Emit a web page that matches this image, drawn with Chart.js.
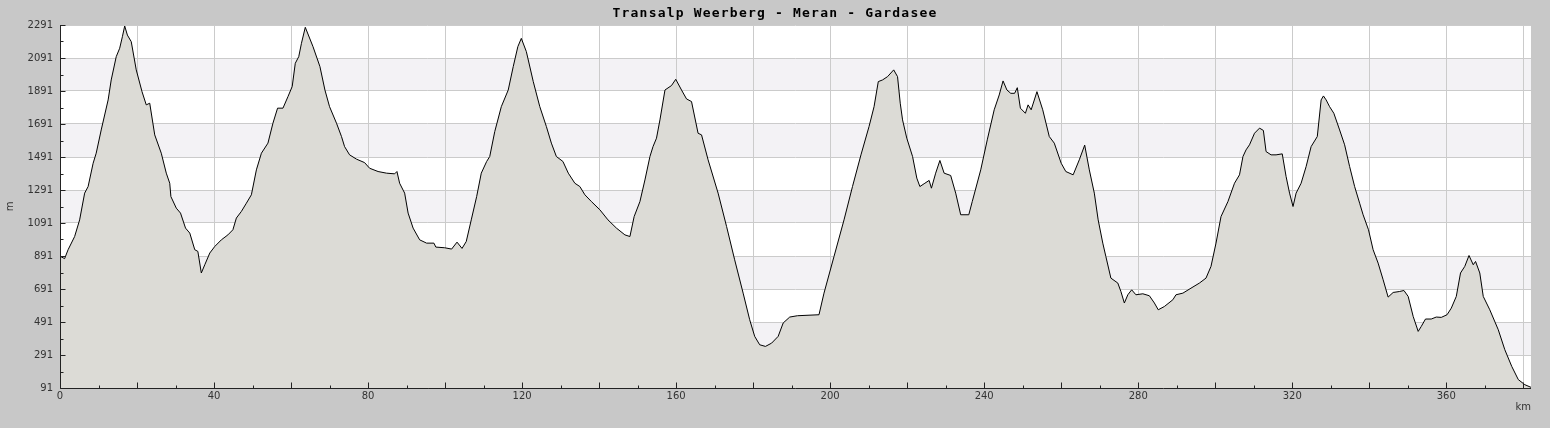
<!DOCTYPE html>
<html>
<head>
<meta charset="utf-8">
<title>Transalp Weerberg - Meran - Gardasee</title>
<script src="https://cdn.jsdelivr.net/npm/chart.js@4.4.1/dist/chart.umd.min.js"></script>
<style>
  html, body { margin: 0; padding: 0; background: #c8c8c8; }
  canvas { display: block; }
</style>
</head>
<body>
<canvas id="profile" width="1550" height="428"></canvas>
<script>
// elevation profile (km / m)
const distKm = [
  0, 1.2, 2.1, 3.8, 5.1, 6.4, 7.3, 8.6, 9.4, 10.7, 12.5, 13.3, 14.6, 15.5, 16.2, 16.8, 17.5, 18.5, 19.8,
  21.3, 22.4, 23.3, 24.6, 26.3, 27.6, 28.5, 28.8, 30.2, 31.3, 32.6, 33.7, 35.0, 35.8, 36.7, 37.6, 38.9,
  40.2, 41.9, 43.6, 44.9, 45.8, 47.1, 48.4, 49.7, 51.0, 52.3, 54.0, 55.3, 56.5, 57.9, 59.2, 60.3, 61.1,
  62.0, 62.7, 63.7, 65.7, 67.5, 68.8, 70.0, 71.8, 73.1, 73.9, 75.2, 77.0, 79.1, 80.4, 82.6, 84.8, 86.9,
  87.5, 88.2, 89.5, 90.4, 91.7, 93.4, 95.2, 97.1, 97.6, 99.9, 101.7, 103.1, 104.4, 105.5, 106.8, 108.2,
  109.4, 110.8, 111.6, 112.9, 114.6, 116.4, 117.7, 118.9, 119.8, 121.1, 122.9, 124.6, 126.3, 127.6,
  128.9, 130.6, 132.0, 133.7, 135.0, 136.3, 138.0, 140.2, 142.3, 144.5, 146.7, 148.0, 149.1, 150.6,
  151.9, 153.2, 154.0, 154.9, 155.8, 157.1, 158.8, 159.9, 161.4, 162.7, 164.0, 165.7, 166.6, 168.3,
  170.9, 173.1, 175.2, 177.4, 179.1, 180.4, 181.7, 183.2, 184.8, 186.5, 187.8, 189.5, 191.5, 197.1,
  198.4, 201.0, 203.6, 205.8, 208.0, 210.1, 211.4, 212.5, 213.6, 214.9, 216.5, 217.5, 218.2, 218.8,
  219.9, 221.4, 222.5, 223.3, 224.4, 225.7, 226.3, 227.4, 228.5, 229.6, 231.3, 232.6, 233.9, 236.0,
  236.9, 239.1, 240.8, 242.6, 243.9, 244.9, 245.9, 246.9, 247.9, 248.6, 249.4, 250.7, 251.4, 252.2,
  253.7, 255.2, 256.9, 258.2, 260.0, 261.2, 263.1, 264.7, 266.1, 267.3, 268.6, 269.6, 270.8, 271.6,
  272.9, 274.7, 275.5, 276.4, 277.3, 278.3, 279.4, 281.2, 282.9, 284.2, 285.2, 286.8, 289.0, 289.8,
  291.6, 293.7, 295.9, 297.6, 298.9, 300.2, 301.5, 303.3, 305.0, 306.3, 307.2, 308.0, 308.9, 310.2,
  311.5, 312.5, 313.2, 314.5, 315.8, 317.4, 318.4, 319.3, 320.2, 321.0, 322.3, 323.6, 324.9, 326.5,
  327.5, 328.1, 328.8, 329.7, 330.8, 332.3, 333.6, 334.9, 336.2, 337.5, 338.4, 339.8, 341.0, 342.3,
  343.6, 344.9, 346.2, 347.9, 349.0, 350.1, 351.4, 352.7, 353.5, 354.6, 356.1, 357.4, 358.7, 360.2,
  361.3, 362.6, 363.7, 364.8, 365.9, 367.0, 367.6, 368.7, 369.6, 371.3, 373.5, 375.2, 377.0, 378.7,
  380.4, 382.0
];
const elevM = [
  890, 875, 929, 1009, 1110, 1272, 1312, 1453, 1514, 1655, 1837, 1958, 2099, 2150, 2220, 2285, 2230, 2190, 2019,
  1887, 1807, 1817, 1625, 1514, 1393, 1332, 1251, 1181, 1151, 1060, 1030, 929, 919, 788, 838, 909,
  949, 989, 1019, 1050, 1121, 1161, 1211, 1262, 1413, 1514, 1575, 1696, 1787, 1787, 1857, 1918, 2059,
  2099, 2180, 2277, 2160, 2039, 1897, 1796, 1696, 1615, 1554, 1504, 1478, 1457, 1423, 1403, 1393, 1389,
  1403, 1332, 1272, 1151, 1060, 989, 969, 969, 945, 941, 933, 975, 937, 979, 1110, 1251,
  1393, 1464, 1494, 1645, 1796, 1897, 2039, 2160, 2210, 2130, 1948, 1796, 1676, 1575,
  1494, 1464, 1393, 1332, 1312, 1262, 1221, 1171, 1110, 1060, 1019, 1009, 1130, 1221,
  1352, 1494, 1554, 1605, 1716, 1897, 1924, 1962, 1897, 1843, 1827, 1635, 1625, 1474,
  1272, 1070, 868, 666, 505, 404, 353, 343, 363, 404, 485, 521, 529, 535,
  666, 888, 1110, 1312, 1504, 1676, 1796, 1948, 1958, 1978, 2019, 1978, 1817, 1716,
  1605, 1494, 1363, 1312, 1329, 1349, 1302, 1393, 1470, 1393, 1379, 1272, 1141, 1141,
  1221, 1413, 1595, 1777, 1867, 1952, 1897, 1877, 1877, 1911, 1787, 1756, 1807, 1777,
  1887, 1777, 1615, 1575, 1453, 1403, 1383, 1474, 1563, 1413, 1272, 1110, 969, 888,
  757, 727, 676, 606, 656, 686, 656, 662, 650, 606, 565, 585, 626, 656,
  666, 696, 727, 757, 828, 969, 1130, 1221, 1332, 1383, 1494, 1534, 1565, 1635,
  1666, 1652, 1524, 1504, 1504, 1510, 1373, 1272, 1191, 1272, 1332, 1433, 1554, 1615,
  1837, 1861, 1837, 1796, 1756, 1655, 1565, 1433, 1312, 1211, 1141, 1050, 929, 848,
  747, 642, 670, 676, 682, 646, 525, 434, 464, 509, 509, 521, 519, 535,
  575, 646, 788, 828, 894, 838, 858, 788, 646, 565, 444, 323, 222, 142,
  111, 95
];

const xTickLabels = [0, 40, 80, 120, 160, 200, 240, 280, 320, 360];
const yTickLabels = [91, 291, 491, 691, 891, 1091, 1291, 1491, 1691, 1891, 2091, 2291];
const chartTitle = 'Transalp Weerberg - Meran - Gardasee';

const X_MAX = 382;
const Y_MIN = 91;
const Y_MAX = 2291;

const BG = '#c8c8c8';
const BAND = '#f3f2f5';
const GRID = '#cbcbcb';
const AXIS = '#222222';
const LABEL = '#333333';

let points = distKm.map((d, i) => ({ x: d, y: elevM[i] }));

// white/grey stripes between the labelled heights
const bandsPlugin = {
  id: 'bands',
  beforeDraw(chart) {
    const { ctx, chartArea, scales } = chart;
    ctx.save();
    ctx.fillStyle = BG;
    ctx.fillRect(0, 0, chart.width, chart.height);
    for (let i = 0; i < yTickLabels.length - 1; i++) {
      const y0 = scales.y.getPixelForValue(yTickLabels[i]);
      const y1 = scales.y.getPixelForValue(yTickLabels[i + 1]);
      ctx.fillStyle = i % 2 ? BAND : '#ffffff';
      ctx.fillRect(chartArea.left, y1, chartArea.right - chartArea.left, y0 - y1);
    }
    ctx.restore();
  }
};

// title centred on the whole canvas, wide monospace look
const titlePlugin = {
  id: 'pageTitle',
  afterDraw(chart) {
    const { ctx } = chart;
    ctx.save();
    ctx.font = 'bold 13px "DejaVu Sans Mono", monospace';
    if ('letterSpacing' in ctx) ctx.letterSpacing = '1.2px';
    ctx.fillStyle = '#000000';
    ctx.textAlign = 'center';
    ctx.textBaseline = 'middle';
    ctx.fillText(chartTitle, chart.width / 2, 14);
    ctx.restore();
  }
};

// axis lines + tick marks pointing into the plot
const axesPlugin = {
  id: 'innerTicks',
  afterDatasetsDraw(chart) {
    const { ctx, chartArea, scales } = chart;
    const left = Math.round(chartArea.left) + 0.5;
    const bottom = Math.round(chartArea.bottom) + 0.5;
    ctx.save();
    ctx.strokeStyle = AXIS;
    ctx.lineWidth = 1;
    ctx.beginPath();
    ctx.moveTo(left, Math.round(chartArea.top));
    ctx.lineTo(left, bottom);
    ctx.lineTo(Math.round(chartArea.right), bottom);
    for (let v = 0; v <= X_MAX; v += 10) {
      const x = Math.round(scales.x.getPixelForValue(v)) + 0.5;
      const len = v % 20 === 0 ? 6 : 3;
      ctx.moveTo(x, bottom);
      ctx.lineTo(x, bottom - len);
    }
    for (let v = Y_MIN; v <= Y_MAX; v += 100) {
      const y = Math.round(scales.y.getPixelForValue(v)) + 0.5;
      const len = (v - Y_MIN) % 200 === 0 ? 5 : 3;
      ctx.moveTo(left, y);
      ctx.lineTo(left + len, y);
    }
    ctx.stroke();
    ctx.restore();
  }
};

new Chart(document.getElementById('profile'), {
  type: 'line',
  data: {
    datasets: [{
      label: 'Höhe',
      data: points,
      borderColor: '#000000',
      borderWidth: 1,
      backgroundColor: '#dcdbd6',
      fill: 'start',
      pointRadius: 0,
      tension: 0
    }]
  },
  options: {
    responsive: false,
    animation: false,
    events: [],
    layout: { padding: { left: 0, right: 19, top: 25, bottom: 0 } },
    plugins: {
      legend: { display: false },
      tooltip: { enabled: false },
      title: { display: false }
    },
    scales: {
      x: {
        type: 'linear',
        min: 0,
        max: X_MAX,
        afterBuildTicks(scale) {
          const t = [];
          for (let v = 0; v <= X_MAX; v += 20) t.push({ value: v });
          scale.ticks = t;
        },
        afterFit(scale) { scale.height = 40; },
        grid: { color: GRID, drawTicks: false },
        border: { display: false },
        ticks: {
          autoSkip: false,
          maxRotation: 0,
          padding: 2,
          color: LABEL,
          font: { family: '"DejaVu Sans", sans-serif', size: 10 },
          callback: (v) => xTickLabels.includes(v) ? String(v) : ''
        },
        title: {
          display: true,
          text: 'km',
          align: 'end',
          color: LABEL,
          font: { family: '"DejaVu Sans", sans-serif', size: 10 },
          padding: { top: 0, bottom: 15 }
        }
      },
      y: {
        type: 'linear',
        min: Y_MIN,
        max: Y_MAX,
        afterBuildTicks(scale) {
          scale.ticks = yTickLabels.map(v => ({ value: v }));
        },
        afterFit(scale) { scale.width = 60; },
        grid: { color: GRID, drawTicks: false },
        border: { display: false },
        ticks: {
          padding: 7,
          color: LABEL,
          font: { family: '"DejaVu Sans", sans-serif', size: 10 },
          callback: (v) => String(v)
        },
        title: {
          display: true,
          text: 'm',
          color: LABEL,
          font: { family: '"DejaVu Sans", sans-serif', size: 10 },
          padding: { top: 4, bottom: 0 }
        }
      }
    }
  },
  plugins: [bandsPlugin, axesPlugin, titlePlugin]
});
</script>
</body>
</html>
